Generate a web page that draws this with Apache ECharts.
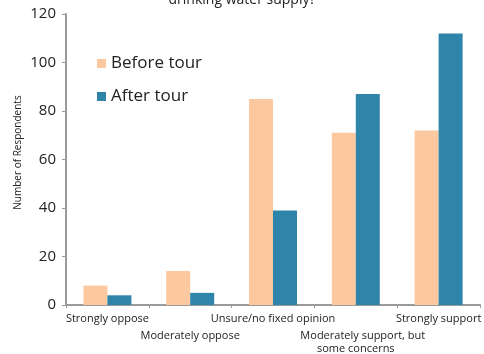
<!DOCTYPE html>
<html>
<head>
<meta charset="utf-8">
<script src="https://cdn.jsdelivr.net/npm/echarts@6/dist/echarts.min.js"></script>
<style>
  html, body { margin: 0; padding: 0; background: #fff; }
  #chart { width: 484px; height: 354px; }
</style>
</head>
<body>
<div id="chart"></div>
<script>
// Survey responses before and after the tour
const categories = [
  'Strongly oppose',
  'Moderately oppose',
  'Unsure/no fixed opinion',
  'Moderately support, but\nsome concerns',
  'Strongly support'
];
const beforeTour = [8, 14, 85, 71, 72];
const afterTour = [4, 5, 39, 87, 112];
const seriesNames = ['Before tour', 'After tour'];
const yTicks = { min: 0, max: 120, interval: 20 };

const FONT = '"Open Sans", "Noto Sans", sans-serif';
const chart = echarts.init(document.getElementById('chart'), null, { renderer: 'canvas' });

// Category labels alternate between two rows so the long names do not collide
function categoryLabel(value, index) {
  const lines = value.split('\n');
  if (index % 2 === 0) {
    return lines.map(l => '{t|' + l + '}').join('\n');
  }
  const body = lines.map((l, i) => (i === 0 && lines.length > 1 ? '{w|' : '{t|') + l + '}');
  return '{pad|}\n' + body.join('\n');
}

chart.setOption({
  animation: false,
  backgroundColor: '#ffffff',
  title: {
    text: 'drinking water supply?',
    left: 'center',
    top: -12,
    textStyle: { fontFamily: FONT, fontSize: 14, fontWeight: 'normal', color: '#222' }
  },
  legend: {
    orient: 'vertical',
    left: 92,
    top: 50,
    itemWidth: 9,
    itemHeight: 9,
    itemGap: 16,
    icon: 'rect',
    textStyle: { fontFamily: FONT, fontSize: 17, color: '#222' },
    data: seriesNames
  },
  grid: { left: 66, right: 1, top: 14, bottom: 49, containLabel: false },
  xAxis: {
    type: 'category',
    data: categories,
    axisLine: { lineStyle: { color: '#9a9a9a', width: 2 } },
    axisTick: { show: true, length: 3, lineStyle: { color: '#9a9a9a' } },
    axisLabel: {
      interval: 0,
      margin: 7,
      formatter: categoryLabel,
      rich: {
        t: { fontFamily: FONT, fontSize: 11, color: '#222', lineHeight: 13 },
        w: { fontFamily: FONT, fontSize: 11, color: '#222', lineHeight: 13, padding: [0, 0, 0, 14] },
        pad: { fontSize: 11, lineHeight: 17 }
      }
    },
    splitLine: { show: false }
  },
  yAxis: {
    type: 'value',
    min: yTicks.min,
    max: yTicks.max,
    interval: yTicks.interval,
    name: 'Number of Respondents',
    nameLocation: 'middle',
    nameGap: 43,
    nameMoveOverlap: false,
    nameTextStyle: { fontFamily: FONT, fontSize: 10, color: '#222', padding: [0, 0, 0, 14] },
    axisLine: { show: true, lineStyle: { color: '#9a9a9a', width: 2 } },
    axisTick: { show: true, length: 4, lineStyle: { color: '#9a9a9a' } },
    axisLabel: { fontFamily: FONT, fontSize: 15, color: '#222', margin: 10 },
    splitLine: { show: false }
  },
  series: [
    {
      name: seriesNames[0],
      type: 'bar',
      data: beforeTour,
      barWidth: 24,
      barGap: '0%',
      itemStyle: { color: '#FBC8A0' }
    },
    {
      name: seriesNames[1],
      type: 'bar',
      data: afterTour,
      barWidth: 24,
      barGap: '0%',
      itemStyle: { color: '#2F84AA' }
    }
  ]
});
</script>
</body>
</html>
